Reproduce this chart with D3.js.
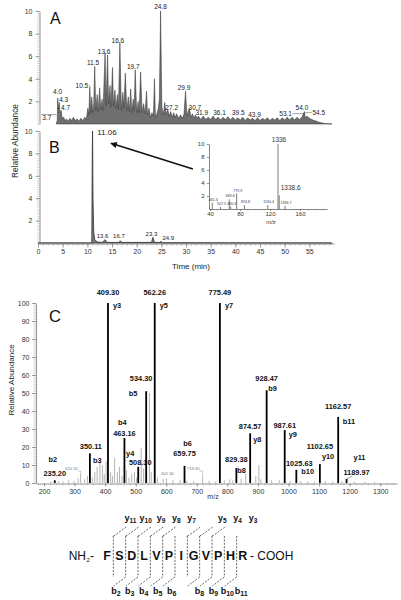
<!DOCTYPE html>
<html><head><meta charset="utf-8">
<script src="https://cdn.jsdelivr.net/npm/d3@7"></script>
<style>body{margin:0;background:#fff}svg{display:block}</style>
</head><body><svg id="c" width="401" height="600"></svg>
<script>
// ================= DATA =================
// Panel A: total ion chromatogram (time in min, relative abundance)
const timesA = [3.7,3.9,4.0,4.15,4.3,4.45,4.7,4.9,5.2,5.5,5.8,6.1,6.5,6.8,7.2,7.5,7.9,8.3,8.7,9.1,9.5,9.8,
 10.1,10.3,10.5,10.7,10.9,11.1,11.3,11.5,11.7,12.0,12.2,12.5,12.7,13.0,13.2,13.4,13.6,13.8,14.1,14.3,14.6,14.8,
 15.1,15.3,15.6,15.8,16.1,16.3,16.6,16.9,17.2,17.4,17.7,18.0,18.3,18.5,18.8,19.0,19.3,19.5,19.7,20.0,20.3,20.5,
 20.8,21.1,21.4,21.7,22.0,22.2,22.5,22.8,23.1,23.4,23.6,23.8,24.1,24.4,24.6,24.85,25.1,25.4,25.7,26.0,26.3,26.6,
 26.9,27.2,27.5,27.8,28.1,28.5,28.9,29.3,29.6,29.9,30.2,30.5,30.7,31.0,31.3,31.6,31.9,32.3,32.5,33,33.5,34,34.5,
 35,35.5,36,36.5,37,37.5,38,38.5,39,39.5,40,40.5,41,41.5,42,42.5,43,43.5,44,44.5,45,45.5,46,46.5,47,47.5,48,48.5,
 49,49.5,50,50.5,51,51.5,52,52.5,53,53.5,54.0,54.2,54.5,55,55.5,56,56.5,57,57.5,58,59,59.6];
const intA = [0.05,0.3,2.3,1.3,1.9,1.0,1.2,0.5,0.6,0.3,0.45,0.25,0.5,0.3,0.6,0.3,0.45,0.25,0.5,0.3,0.6,0.4,
 1.4,0.8,3.3,1.0,2.4,1.0,1.8,5.1,1.2,2.6,1.1,3.2,1.3,2.2,1.2,3.9,6.3,1.6,6.1,1.8,3.4,1.5,
 5.0,1.6,3.0,1.4,2.6,1.3,7.2,1.2,2.8,1.4,4.5,1.2,2.4,1.1,3.1,1.0,2.2,1.2,4.8,1.0,2.0,1.0,
 4.6,1.0,1.8,0.9,2.9,0.8,1.4,0.6,1.0,0.7,4.0,0.6,0.9,1.4,2.2,10.0,1.6,0.8,1.9,0.8,1.3,0.7,
 1.1,0.6,1.0,0.6,0.9,0.5,0.8,0.5,0.9,2.9,0.7,1.2,1.4,0.6,0.9,0.5,0.8,0.5,0.7,0.4,0.7,0.4,0.6,
 0.4,0.7,0.4,0.6,0.35,0.6,0.4,0.65,0.35,0.6,0.35,0.55,0.35,0.6,0.3,0.55,0.35,0.5,0.3,0.55,0.3,0.5,0.35,0.55,0.3,0.5,0.35,0.55,
 0.3,0.55,0.35,0.6,0.35,0.6,0.35,0.6,0.4,0.6,1.1,0.5,0.7,0.5,0.4,0.3,0.25,0.15,0.1,0.05,0.03,0.0];
const labelsA = ["3.7","4.0","4.3","4.7","10.5","11.5","13.6","16.6","19.7","24.8","27.2","29.9","30.7","31.9","36.1","39.5","43.9","53.1","54.0","54.5"];
const labelTimeA = [1.8,3.96,5.2,5.6,8.9,11.15,13.4,16.2,19.3,24.85,27.1,29.6,31.8,33.2,36.8,40.6,43.9,50.2,53.5,56.9];
const labelIntA = [0.35,2.65,1.95,1.28,3.2,5.2,6.2,7.2,4.9,10.2,1.28,3.0,1.28,0.8,0.8,0.8,0.62,0.7,1.24,0.8];
const leaderTimeA = [3.7,null,null,null,10.5,null,null,null,null,null,null,null,null,null,null,null,null,54.2,null,54.2];

// Panel B: extracted ion chromatogram
const timesB = [0,10.9,11.0,11.06,11.15,11.3,11.5,12.0,13.0,13.6,14.0,16.4,16.7,17.0,23.0,23.3,23.6,24.7,24.9,25.1,59.6];
const intB = [0,0,8,10,4,1,0.3,0.1,0.05,0.3,0.05,0.05,0.2,0.05,0.05,0.5,0.05,0.05,0.15,0.02,0];
const labelsB = ["11.06","13.6","16.7","23.3","24.9"];
const labelTimeB = [12.0,13.1,16.4,23.0,26.4];
const labelIntB = [9.6,0.45,0.45,0.6,0.27];

// Inset of panel B: mass spectrum
const insetMz = [43,54,65.7,67.6,75.6,85.9,117,130.7,132.3,140];
const insetInt = [1.0,0.3,1.5,0.4,2.4,0.6,0.6,10,2.1,0.5];
const insetLabels = ["461.3","507.5","669.6","680.3","779.9","874.8","1190.4","1336","1338.6","1396.7"];

// Panel C: MS/MS spectrum
const mzMajor = [235.20,350.11,409.30,463.16,508.30,534.30,562.26,659.75,775.49,829.38,874.57,928.47,987.61,1025.63,1102.65,1162.57,1189.97];
const intMajor = [1.5,16.5,100,25,9,51,100,9.5,100,8.3,27.6,51.5,29.4,7.3,10.5,36.7,2.2];
const ionMajor = ["b2","b3","y3","b4","y4","b5","y5","b6","y7","b8","y8","b9","y9","b10","y10","b11","y11"];
const mzMinor = [222,248,262,281,298,312,320,333,342,358,366,374,383,391,397,403,418,424,431,440,447,455,470,478,487,496,503,518,526,545,551,571,590,601,622,645,667,690,719,740,762,790,808,818,845,860,893,903,910,945,970,1005,1040,1063,1085,1120,1145,1175,1215,1250,1282];
const intMinor = [0.8,1,0.8,1.5,1.2,2.5,5,2,4,3,6,9,12,10,5,12,6,4,14,6,9,4,7,3,5,6,3,19.5,8,50,6,3,2,2.5,1.5,1.5,1.2,1,3,1.2,1,1.5,2,1.5,2.5,5,4,10,2,1.5,1.5,1.2,1,1,0.8,1,0.8,1,0.8,0.6,0.6];
const minorLabels = ["320.16","601.30","719.40"];
const minorLabelMz = [320,601,719];

// Peptide sequence
const residues = ["F","S","D","L","V","P","I","G","V","P","H","R"];
const yIonsSeq = [11,10,9,8,7,5,4,3];
const bIonsSeq = [2,3,4,5,6,8,9,10,11];

// Tick values
const ticksAB = [2,4,6,8,10];
const ticksTime = [0,5,10,15,20,25,30,35,40,45,50,55];
const ticksInsetX = [40,80,120,160];
const ticksCy = [0,10,20,30,40,50,60,70,80,90,100];
const ticksCx = [200,300,400,500,600,700,800,900,1000,1100,1200,1300];

// ================= LAYOUT (label offsets in px) =================
const layoutC = [ // [mzDx, mzDy, ionDx, ionDy, ionAnchor]
 [0,-4,-2,-18,"middle"],[1,-4,3,10,"start"],[0,-8,5,5,"start"],[0,-2,-2,-13,"middle"],
 [2,-1.5,-8,-11,"middle"],[-5,-10,-13,5,"middle"],[0,-8,5,5,"start"],[0,-10,3,-20,"middle"],
 [0,-8,5,5,"start"],[0,-6,1,5,"start"],[0,-4,3,9,"start"],[0,-9,1.5,1,"start"],
 [0,-2,4,7,"start"],[3,-4,5,4,"start"],[0,-15,2,-5,"start"],[0,-8,4.5,7,"start"],[10,-4,7,-19,"start"]];

// ================= DRAW =================
const FONT = "'Liberation Sans', Arial, Helvetica, sans-serif";
const svg = d3.select("#c").attr("font-family", FONT);

const xT = d3.scaleLinear().domain([0,60]).range([38,334]);
const yA = d3.scaleLinear().domain([0,10]).range([124,11]);
const yB = d3.scaleLinear().domain([0,10]).range([243,131]);
const xIn = d3.scaleLinear().domain([38.7,196]).range([209,327]);
const yIn = d3.scaleLinear().domain([0,10]).range([209,144]);
const xC = d3.scaleLinear().domain([173.8,1355]).range([36,397]);
const yC = d3.scaleLinear().domain([0,100]).range([483,303]);

function styleAxis(g, fs, col) {
  g.attr("font-family", FONT).attr("font-size", fs);
  g.selectAll(".domain").attr("stroke", col || "#777").attr("stroke-width", 0.8);
  g.selectAll(".tick line").attr("stroke", col || "#777").attr("stroke-width", 0.7);
  g.selectAll("text").attr("fill", "#333");
}
function minorTicks(axisFn, scale, vals, len, tr) {
  const g = svg.append("g").attr("transform", tr);
  g.call(axisFn(scale).tickValues(vals).tickSize(len).tickFormat("").tickSizeOuter(0));
  g.select(".domain").remove();
  g.selectAll(".tick line").attr("stroke", "#aaa").attr("stroke-width", 0.5);
}

// ---- Panel A ----
const areaA = d3.area().x((d,i)=>xT(timesA[i])).y0(yA(0)).y1((d)=>yA(d)).curve(d3.curveLinear);
svg.append("path").datum(intA).attr("d", areaA).attr("fill","#6f6f6f").attr("stroke","#2e2e2e").attr("stroke-width",0.5);
minorTicks(d3.axisLeft, yA, d3.range(0,10.01,0.2), 2.5, "translate(39.5,0)");
const gAy = svg.append("g").attr("transform","translate(39.5,0)")
  .call(d3.axisLeft(yA).tickValues(ticksAB).tickSize(4).tickPadding(3).tickSizeOuter(0));
styleAxis(gAy, 7);
const gLA = svg.append("g").attr("font-size",6.5).attr("fill","#222");
labelsA.forEach((t,i)=>{
  const x = xT(labelTimeA[i]), y = yA(labelIntA[i]);
  const txt = gLA.append("text").attr("x",x).attr("y",y).attr("text-anchor","middle").text(t);
  if (leaderTimeA[i] !== null) {
    const w = txt.node().getComputedTextLength();
    const xp = xT(leaderTimeA[i]);
    const x0 = xp > x ? x + w/2 + 0.5 : x - w/2 - 0.5;
    const ly = t==="3.7" ? y-5.5 : y-2.5;
    const xs = t==="3.7" ? x - w/2 - 1 : x0;
    svg.append("line").attr("x1",xs).attr("x2",xp).attr("y1",ly).attr("y2",ly).attr("stroke","#555").attr("stroke-width",0.5);
  }
});
svg.append("text").attr("x",50).attr("y",23.5).attr("font-size",16).attr("fill","#111").text("A");

// ---- Panel B ----
const areaB = d3.area().x((d,i)=>xT(timesB[i])).y0(yB(0)).y1((d)=>yB(d));
svg.append("path").datum(intB).attr("d", areaB).attr("fill","#777").attr("stroke","#333").attr("stroke-width",0.8);
minorTicks(d3.axisLeft, yB, d3.range(0,10.01,0.2), 2.5, "translate(39.5,0)");
const gBy = svg.append("g").attr("transform","translate(39.5,0)")
  .call(d3.axisLeft(yB).tickValues(ticksAB).tickSize(4).tickPadding(3).tickSizeOuter(0));
styleAxis(gBy, 7);
minorTicks(d3.axisBottom, xT, d3.range(0,60,1), 2.5, "translate(0,243.5)");
const gBx = svg.append("g").attr("transform","translate(0,243.5)")
  .call(d3.axisBottom(xT).tickValues(ticksTime).tickSize(4).tickPadding(2).tickSizeOuter(0));
styleAxis(gBx, 7);
const gLB = svg.append("g").attr("font-size",6.5).attr("fill","#222");
labelsB.forEach((t,i)=>{
  gLB.append("text").attr("x",xT(labelTimeB[i])).attr("y",yB(labelIntB[i]))
    .attr("text-anchor", i===0 ? "start" : "middle").attr("font-size", i===0 ? 8 : 6).text(t);
});
svg.append("text").attr("x",49).attr("y",153).attr("font-size",16).attr("fill","#111").text("B");
svg.append("text").attr("x",191).attr("y",269).attr("text-anchor","middle").attr("font-size",8).attr("fill","#222").text("Time (min)");
svg.append("text").attr("transform","translate(17.5,141) rotate(-90)").attr("text-anchor","middle")
  .attr("font-size",8.3).attr("fill","#222").text("Relative Abundance");

// arrow
svg.append("defs").append("marker").attr("id","ah").attr("viewBox","0 0 10 10").attr("refX",9).attr("refY",5)
  .attr("markerWidth",5).attr("markerHeight",4).attr("orient","auto")
  .append("path").attr("d","M0,0L10,5L0,10Z").attr("fill","#111");
svg.append("line").attr("x1",xT(31.4)).attr("y1",yB(6.6)).attr("x2",xT(14.8)).attr("y2",yB(8.9))
  .attr("stroke","#111").attr("stroke-width",1.6).attr("marker-end","url(#ah)");

// ---- Inset ----
const gIn = svg.append("g");
gIn.selectAll("line.pk").data(insetMz).join("line").attr("class","pk")
  .attr("x1",d=>xIn(d)).attr("x2",d=>xIn(d)).attr("y1",yIn(0)).attr("y2",(d,i)=>yIn(insetInt[i]))
  .attr("stroke","#444").attr("stroke-width",0.7);
minorTicks(d3.axisBottom, xIn, d3.range(40,196,10), 1.5, "translate(0,209)");
const gInx = svg.append("g").attr("transform","translate(0,209)")
  .call(d3.axisBottom(xIn).tickValues(ticksInsetX).tickSize(2).tickPadding(1).tickSizeOuter(0));
styleAxis(gInx, 6, "#666");
const gIny = svg.append("g").attr("transform","translate(209,0)")
  .call(d3.axisLeft(yIn).tickValues(ticksAB).tickSize(2).tickPadding(2.5).tickSizeOuter(0));
styleAxis(gIny, 6, "#666");
insetLabels.forEach((t,i)=>{
  const x = xIn(insetMz[i]), y = yIn(insetInt[i]);
  const start = t === "1338.6";
  svg.append("text").attr("x", start ? x+1.5 : x+1).attr("y", start ? y-5 : y-1.8)
    .attr("text-anchor", start ? "start" : "middle")
    .attr("font-size", (t==="1336"||t==="1338.6") ? 6.5 : 3.6).attr("fill","#333").text(t);
});
svg.append("text").attr("x",271).attr("y",224).attr("text-anchor","middle").attr("font-size",6).attr("fill","#333").text("m/z");

// ---- Panel C ----
svg.append("g").selectAll("line").data(mzMinor).join("line")
  .attr("x1",d=>xC(d)).attr("x2",d=>xC(d)).attr("y1",yC(0)).attr("y2",(d,i)=>yC(intMinor[i]))
  .attr("stroke","#a0a0a0").attr("stroke-width",0.8);
svg.append("g").selectAll("line").data(mzMajor).join("line")
  .attr("x1",d=>xC(d)).attr("x2",d=>xC(d)).attr("y1",yC(0)).attr("y2",(d,i)=>yC(intMajor[i]))
  .attr("stroke","#000").attr("stroke-width",1.8);
minorTicks(d3.axisLeft, yC, d3.range(0,100.1,1), 2.5, "translate(36,0)");
const gCy = svg.append("g").attr("transform","translate(36,0)")
  .call(d3.axisLeft(yC).tickValues(ticksCy).tickSize(4).tickPadding(2.5).tickSizeOuter(0));
styleAxis(gCy, 7);
minorTicks(d3.axisBottom, xC, d3.range(180,1355,20), 2, "translate(0,483.5)");
const gCx = svg.append("g").attr("transform","translate(0,483.5)")
  .call(d3.axisBottom(xC).tickValues(ticksCx).tickFormat(d3.format("d")).tickSize(3).tickPadding(3).tickSizeOuter(0));
styleAxis(gCx, 7);
const gLC = svg.append("g").attr("font-size",7.4).attr("font-weight","bold").attr("fill","#111");
mzMajor.forEach((m,i)=>{
  const x = xC(m), y = yC(intMajor[i]), L = layoutC[i];
  gLC.append("text").attr("x",x+L[0]).attr("y",y+L[1]).attr("text-anchor","middle").text(m.toFixed(2));
  gLC.append("text").attr("x",x+L[2]).attr("y",y+L[3]).attr("text-anchor",L[4]).text(ionMajor[i]);
});
// small gray labels with leaders
minorLabels.forEach((t,i)=>{
  const idx = mzMinor.indexOf(minorLabelMz[i]);
  const x = xC(minorLabelMz[i]), y = yC(intMinor[idx]);
  const centered = t === "601.30";
  const tx = centered ? x + 1 : x - 3;
  const ty = centered ? y - 4 : 470;
  svg.append("text").attr("x",tx).attr("y",ty).attr("text-anchor", centered ? "middle" : "end")
    .attr("font-size",4.2).attr("fill","#777").text(t);
  if (!centered) {
    svg.append("line").attr("x1",tx).attr("x2",x).attr("y1",ty+1).attr("y2",ty+1).attr("stroke","#999").attr("stroke-width",0.5);
    svg.append("line").attr("x1",x).attr("x2",x).attr("y1",ty+1).attr("y2",y).attr("stroke","#999").attr("stroke-width",0.5);
  }
});
// leader for y11 label
svg.append("line").attr("x1",xC(1189.97)).attr("y1",yC(2.2)).attr("x2",xC(1189.97)+6).attr("y2",yC(2.2)-3)
  .attr("stroke","#555").attr("stroke-width",0.5);
svg.append("text").attr("x",49).attr("y",322).attr("font-size",16.5).attr("fill","#111").text("C");
svg.append("text").attr("x",213).attr("y",499).attr("text-anchor","middle").attr("font-size",7).attr("fill","#333").text("m/z");
svg.append("text").attr("transform","translate(13.5,380) rotate(-90)").attr("text-anchor","middle")
  .attr("font-size",8).attr("fill","#222").text("Relative Abundance");

// ---- Peptide sequence diagram ----
const xRes = d3.scaleBand().domain(d3.range(residues.length)).range([101,249]);
const bondX = k => xRes(k);  // bond between residue k-1 and k
const seqY = 560;
const gS = svg.append("g").attr("fill","#111");
gS.append("text").attr("x",86).attr("y",seqY).attr("text-anchor","end").attr("font-size",12).text("NH");
gS.append("text").attr("x",86.5).attr("y",seqY+2).attr("font-size",6).text("2");
gS.append("text").attr("x",90).attr("y",seqY).attr("font-size",12).text("-");
gS.selectAll("text.res").data(residues).join("text").attr("class","res")
  .attr("x",(d,i)=>xRes(i)+xRes.bandwidth()/2).attr("y",seqY).attr("text-anchor","middle")
  .attr("font-size",12.5).attr("font-weight","bold").text(d=>d);
gS.append("text").attr("x",250).attr("y",seqY).attr("font-size",12).text("- COOH");
const dash = "2,1.4";
for (let k=1;k<residues.length;k++){
  const bx = bondX(k);
  svg.append("line").attr("x1",bx).attr("x2",bx).attr("y1",536).attr("y2",577)
    .attr("stroke","#222").attr("stroke-width",0.7).attr("stroke-dasharray",dash);
}
yIonsSeq.forEach(n=>{
  const k = residues.length - n, bx = bondX(k);
  svg.append("path").attr("d",`M${bx},536L${bx+2},535L${bx+13},527`).attr("fill","none")
    .attr("stroke","#222").attr("stroke-width",0.7).attr("stroke-dasharray",dash);
  const t = svg.append("text").attr("x",bx+17+3*(k-1)).attr("y",521).attr("text-anchor","middle")
    .attr("font-size",9).attr("font-weight","bold").attr("fill","#111");
  t.append("tspan").text("y");
  t.append("tspan").attr("font-size",6.5).attr("dy",1.5).text(n);
});
bIonsSeq.forEach(n=>{
  const k = n, bx = bondX(k);
  svg.append("path").attr("d",`M${bx},577L${bx-12},586`).attr("fill","none")
    .attr("stroke","#222").attr("stroke-width",0.7).attr("stroke-dasharray",dash);
  const t = svg.append("text").attr("x",bx-13+1.6*k).attr("y",594).attr("text-anchor","middle")
    .attr("font-size",9).attr("font-weight","bold").attr("fill","#111");
  t.append("tspan").text("b");
  t.append("tspan").attr("font-size",7).attr("dy",1.5).text(n);
});
</script></body></html>
